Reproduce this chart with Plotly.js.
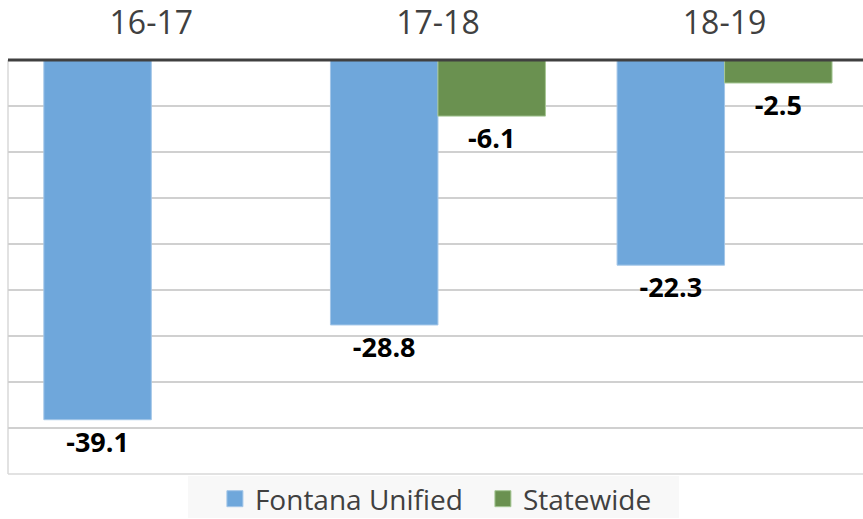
<!DOCTYPE html>
<html>
<head>
<meta charset="utf-8">
<script src="https://cdn.plot.ly/plotly-3.0.1.min.js"></script>
<style>
  html, body { margin: 0; padding: 0; background: #ffffff; }
  #chart { width: 863px; height: 519px; }
</style>
</head>
<body>
<div id="chart"></div>
<script>
const categories = ["16-17", "17-18", "18-19"];
const fontanaValues = [-39.1, -28.8, -22.3];
const statewideValues = [null, -6.1, -2.5];
const seriesNames = ["Fontana Unified", "Statewide"];
const seriesColors = ["#6fa7db", "#6a9150"];
const seriesEdges = ["#a3c6e8", "#a6c795"];

const labelFont = { family: "Open Sans, sans-serif", size: 27, color: "#000000", weight: 700 };

function barTrace(i, values) {
  return {
    type: "bar",
    name: seriesNames[i],
    legendgroup: seriesNames[i],
    showlegend: false,
    x: categories,
    y: values,
    text: values.map(v => v == null ? "" : v.toFixed(1)),
    textposition: "outside",
    textfont: labelFont,
    cliponaxis: false,
    marker: { color: seriesColors[i], line: { color: seriesEdges[i], width: 1 } },
    hoverinfo: "skip"
  };
}

function legendTrace(i) {
  return {
    type: "scatter",
    mode: "markers",
    name: seriesNames[i],
    legendgroup: seriesNames[i],
    showlegend: true,
    x: [categories[0]],
    y: [null],
    marker: { symbol: "square", size: 16, color: seriesColors[i], line: { color: seriesEdges[i], width: 1 } },
    hoverinfo: "skip"
  };
}

const traces = [
  barTrace(0, fontanaValues),
  barTrace(1, statewideValues),
  legendTrace(0),
  legendTrace(1)
];

const layout = {
  width: 863,
  height: 519,
  margin: { l: 8, r: 0, t: 60, b: 44, pad: 0 },
  paper_bgcolor: "#ffffff",
  plot_bgcolor: "#ffffff",
  font: { family: "Open Sans, sans-serif", color: "#404040" },
  barmode: "group",
  bargap: 0.25,
  bargroupgap: 0,
  showlegend: true,
  legend: {
    orientation: "h",
    xref: "paper",
    x: 0.2420,
    xanchor: "left",
    yref: "container",
    y: 0.0867,
    yanchor: "top",
    bgcolor: "rgba(0,0,0,0)",
    font: { family: "Open Sans, sans-serif", size: 28, color: "#404040" },
    entrywidth: 223,
    entrywidthmode: "pixels",
    itemsizing: "trace",
    traceorder: "normal"
  },
  xaxis: {
    type: "category",
    side: "top",
    range: [-0.5, 2.483],
    showgrid: false,
    showline: false,
    zeroline: false,
    ticks: "",
    ticklabelstandoff: 19,
    tickfont: { family: "Open Sans, sans-serif", size: 32, color: "#404040" },
    automargin: false,
    fixedrange: true
  },
  yaxis: {
    range: [-45, 0],
    dtick: 5,
    showgrid: true,
    gridcolor: "#d0d0d0",
    gridwidth: 1.5,
    zeroline: false,
    showline: false,
    showticklabels: false,
    ticks: "",
    automargin: false,
    fixedrange: true
  },
  shapes: [
    { type: "rect", xref: "paper", yref: "paper", x0: 0.2105, x1: 0.7848, y0: -0.0048, y1: -0.106, line: { width: 0 }, fillcolor: "#f8f8f8", layer: "below" },
    { type: "line", xref: "paper", yref: "paper", x0: 0, x1: 0, y0: 0, y1: 1, line: { color: "#d9d9d9", width: 1.5 }, layer: "below" },
    { type: "line", xref: "paper", yref: "paper", x0: 0, x1: 1, y0: 0, y1: 0, line: { color: "#d9d9d9", width: 1.5 }, layer: "below" },
    { type: "line", xref: "paper", yref: "paper", x0: 0, x1: 1, y0: 1, y1: 1, line: { color: "#404040", width: 3 }, layer: "above" }
  ]
};

Plotly.newPlot("chart", traces, layout, { displayModeBar: false, staticPlot: true });
</script>
</body>
</html>
